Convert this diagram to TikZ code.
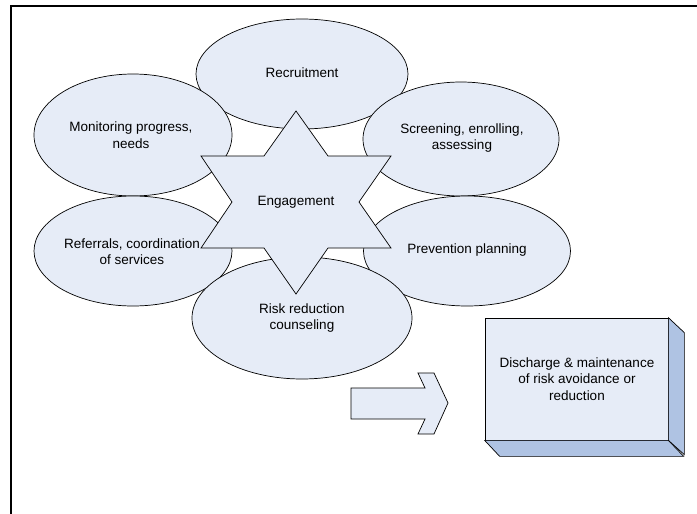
\documentclass[tikz,border=0pt]{standalone}
\usepackage{fontspec}
\setmainfont{Liberation Sans}
\usetikzlibrary{shapes.geometric}
\definecolor{lightfill}{HTML}{E6ECF7}
\definecolor{sidefill}{HTML}{AFC3E3}
\tikzset{
  oval/.style={ellipse, draw=black, line width=0.7pt, fill=lightfill, inner sep=0pt,
    align=center, font=\fontsize{13.5}{16.5}\selectfont},
  lbl/.style={align=center, inner sep=0pt, font=\fontsize{13.5}{16.5}\selectfont},
  shapeline/.style={draw=black, line width=0.7pt, fill=lightfill, line join=miter},
  sideface/.style={draw=black, line width=0.7pt, fill=sidefill, line join=miter},
  frameline/.style={draw=black, line width=1.6pt}
}
\begin{document}
\begin{tikzpicture}[x=1pt,y=-1pt]
\useasboundingbox (0,0) rectangle (697,514);
% frame
\coordinate (fl) at (10,6);
\coordinate (fr) at (697,6);
\coordinate (fb) at (11,514);
\draw[frameline] (fr) -- (fl);
\draw[frameline] (11,6) -- (fb);
% ellipses
\node[oval, minimum width=212pt, minimum height=110pt] (rec) at (302,74) {};
\node[oval, minimum width=198pt, minimum height=122pt] (mon) at (133,135) {};
\node[oval, minimum width=196pt, minimum height=114pt] (scr) at (461,139) {};
\node[oval, minimum width=198pt, minimum height=110pt] (ref) at (133,251) {};
\node[oval, minimum width=207pt, minimum height=110pt] (pre) at (467,251) {};
\node[oval, minimum width=220pt, minimum height=122pt] (risk) at (302,318) {};
\node[lbl] (recT) at (302,73) {Recruitment};
\node[lbl] (monT) at (131,135) {Monitoring progress,\\needs};
\node[lbl] (scrT) at (462,138) {Screening, enrolling,\\assessing};
\node[lbl] (refT) at (132,251.5) {Referrals, coordination\\of services};
\node[lbl] (preT) at (467,250) {Prevention planning};
\node[lbl] (riskT) at (302,318) {Risk reduction\\counseling};
% star
\path[shapeline] (296,111) -- (328,156) -- (391,156) -- (359,202) -- (391,248) -- (328,248)
  -- (296,294) -- (264,248) -- (201,248) -- (232,202) -- (201,156) -- (264,156) -- cycle;
\node[lbl] (eng) at (296,202) {Engagement};
% arrow
\path[shapeline] (351,388) -- (425,388) -- (418,373) -- (434,373) -- (448,403) -- (434,434)
  -- (418,434) -- (425,419) -- (351,419) -- cycle;
% 3D box
\node[draw=black, line width=0.7pt, fill=lightfill, minimum width=183pt, minimum height=122pt,
  inner sep=0pt] (dis) at (576.5,379) {};
\path[sideface] (dis.north east) -- ++(16,15) -- ++(0,122) -- (dis.south east) -- cycle;
\path[sideface] (dis.south west) -- ++(15,16) -- ++(184,0) -- (dis.south east) -- cycle;
\node[lbl] (disT) at (577,379) {Discharge \& maintenance\\of risk avoidance or\\reduction};
\end{tikzpicture}
\end{document}
